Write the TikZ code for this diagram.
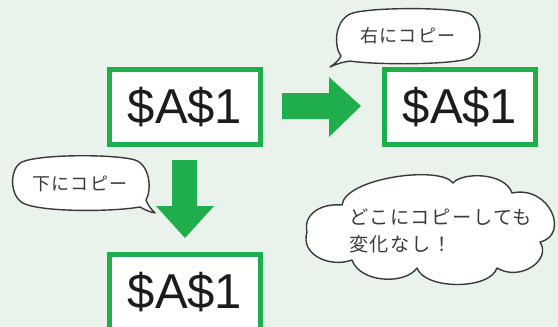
\documentclass[tikz,border=0pt]{standalone}
\usepackage{fontspec}
\setmainfont{Liberation Sans}
\newfontfamily\jp{Noto Sans CJK JP}[LetterSpace=8]
\definecolor{bg}{HTML}{EAF2EC}
\definecolor{grn}{HTML}{20AD4B}
\definecolor{ink}{HTML}{1C1C1C}
\definecolor{jink}{HTML}{3A3A3A}
\tikzset{
  cellbox/.style={draw=grn, line width=5pt, fill=white, minimum width=151pt, minimum height=75pt, inner sep=0pt, text=ink, font=\fontsize{49}{49}\selectfont},
  bigarrow/.style={fill=grn, draw=none},
  bubble/.style={draw=jink, line width=1.4pt, fill=white, line join=round},
  jtext/.style={text=jink, font=\jp\fontsize{18}{20}\selectfont, inner sep=0pt},
}
\begin{document}
\begin{tikzpicture}[x=1pt,y=-1pt]
\useasboundingbox (0,0) rectangle (558,327);
\clip (0,0) rectangle (558,327);
\fill[bg] (0,0) rectangle (558,327);
% boxes
\node[cellbox] (src) at (185,107) {\$A\$1};
\node[cellbox] (right) at (460,107) {\$A\$1};
\node[cellbox] (down) at (185,292) {\$A\$1};
% arrows
\fill[bigarrow] (282,93) -- (329,93) -- (329,77) -- (361,106) -- (329,137) -- (329,119) -- (282,119) -- cycle;
\fill[bigarrow] (172,160) -- (197,160) -- (197,206) -- (214,206) -- (185,238) -- (156,206) -- (172,206) -- cycle;
% bubble right
\draw[bubble] (330,67) .. controls (336,63) and (339,60) .. (341,56)
  .. controls (334,47) and (334,22) .. (350,14)
  .. controls (366,7) and (450,7) .. (468,13)
  .. controls (483,19) and (484,51) .. (470,58)
  .. controls (455,65) and (375,65) .. (350,61)
  .. controls (343,62) and (336,64) .. (330,67) -- cycle;
\node[jtext] (lblright) at (408,36) {右にコピー};
% bubble down
\draw[bubble] (155,213) .. controls (150,208) and (148,205) .. (146,200)
  .. controls (152,190) and (150,165) .. (135,160)
  .. controls (115,154) and (40,154) .. (22,162)
  .. controls (9,168) and (9,198) .. (25,204)
  .. controls (45,212) and (110,212) .. (140,207)
  .. controls (145,210) and (150,212) .. (155,213) -- cycle;
\node[jtext] (lbldown) at (80,184) {下にコピー};
% cloud
\draw[bubble] (307,232) .. controls (303,215) and (320,203) .. (342,205)
  .. controls (345,178) and (440,165) .. (453,183)
  .. controls (462,172) and (505,172) .. (512,193)
  .. controls (550,185) and (570,235) .. (540,242)
  .. controls (552,260) and (520,282) .. (497,268)
  .. controls (490,290) and (425,290) .. (417,268)
  .. controls (405,285) and (360,283) .. (352,260)
  .. controls (330,268) and (300,255) .. (307,232) -- cycle;
\node[jtext, align=left, anchor=north west, font=\jp\fontsize{19.2}{27}\selectfont] (note) at (349,209) {どこにコピーしても\\変化なし！};
\end{tikzpicture}
\end{document}
